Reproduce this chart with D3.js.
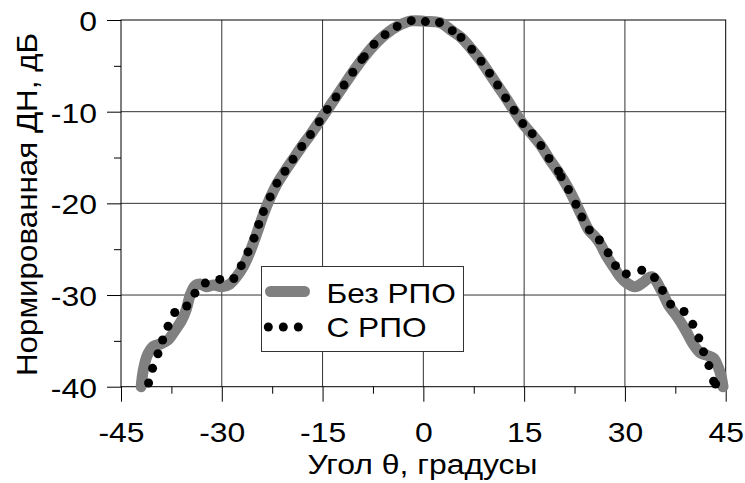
<!DOCTYPE html>
<html>
<head>
<meta charset="utf-8">
<script src="https://cdn.jsdelivr.net/npm/d3@7"></script>
<style>
	html, body { margin: 0; padding: 0; background: #fff; }
	svg text { font-family: 'Liberation Sans', Arial, sans-serif; fill: #000; }
</style>
</head>
<body>
<div id="chart"></div>
<script>
// angle (deg) and normalised pattern (dB)
const angleNoRpo = [-42.0, -41.7, -41.1, -40.2, -39.0, -38.0, -37.0, -36.0, -35.3, -34.7, -34.0, -33.2, -32.3, -31.2, -30.0, -28.8, -27.8, -26.8, -25.8, -24.8, -23.8, -22.8, -21.8, -20.6, -19.4, -18.1, -16.8, -15.5, -14.3, -13.0, -11.8, -10.5, -9.0, -7.4, -5.7, -3.9, -1.8, 0.3, 2.5, 4.3, 5.6, 7.2, 8.6, 9.8, 11.0, 12.3, 13.5, 14.8, 16.2, 17.5, 18.7, 20.2, 21.6, 22.7, 23.6, 24.6, 25.5, 26.3, 27.3, 28.3, 29.3, 30.3, 31.5, 32.6, 34.0, 35.5, 36.5, 37.8, 39.0, 40.2, 41.2, 42.3, 43.2, 43.9, 44.3, 44.6];
const levelNoRpo = [-40.0, -38.3, -36.6, -35.6, -35.3, -34.9, -33.9, -32.8, -31.6, -30.0, -29.0, -28.8, -29.1, -28.9, -29.1, -28.8, -28.0, -26.9, -25.3, -23.3, -21.2, -19.4, -17.9, -16.5, -15.2, -13.8, -12.5, -11.1, -9.8, -8.4, -7.1, -5.7, -4.2, -2.8, -1.6, -0.7, -0.1, -0.15, -0.3, -1.2, -1.9, -3.2, -4.5, -5.8, -7.1, -8.5, -9.9, -11.3, -12.5, -13.7, -15.1, -16.7, -18.4, -20.0, -21.4, -22.9, -23.6, -24.4, -25.8, -26.9, -28.0, -28.7, -29.1, -28.7, -28.0, -29.6, -31.1, -32.4, -33.8, -35.4, -36.3, -36.6, -36.9, -37.9, -38.8, -40.0];

const angleRpo = [-40.9, -40.3, -39.5, -38.8, -38.0, -37.0, -35.2, -34.0, -32.45, -30.3, -28.2, -27.1, -26.1, -25.2, -24.5, -23.8, -22.8, -21.8, -20.6, -19.4, -18.1, -16.8, -15.5, -14.3, -13.0, -11.8, -10.5, -9.15, -8.8, -7.35, -5.7, -3.9, -1.8, 0.3, 2.4, 4.3, 5.6, 7.2, 8.6, 9.85, 11.05, 12.25, 13.5, 14.8, 16.2, 17.5, 18.7, 20.1, 20.5, 21.6, 22.7, 23.6, 24.7, 26.2, 27.5, 28.6, 30.2, 32.5, 34.4, 35.6, 36.8, 38.8, 40.1, 41.0, 41.7, 42.5, 43.2, 43.5];
const levelRpo = [-39.6, -38.0, -36.4, -34.9, -33.4, -31.9, -31.2, -29.8, -28.7, -28.3, -28.2, -26.8, -25.3, -23.8, -22.3, -20.9, -19.3, -17.8, -16.5, -15.2, -13.8, -12.5, -11.1, -9.75, -8.4, -7.1, -5.7, -4.3, -4.0, -2.65, -1.6, -0.7, -0.07, -0.17, -0.27, -1.16, -1.9, -3.2, -4.5, -5.8, -7.1, -8.5, -9.85, -11.3, -12.4, -13.7, -15.1, -16.5, -17.1, -18.5, -20.1, -21.5, -22.9, -24.0, -25.4, -26.8, -27.7, -27.3, -28.1, -29.5, -31.0, -31.8, -33.2, -34.7, -36.2, -37.7, -39.4, -39.7];

const xTicks = [-45, -30, -15, 0, 15, 30, 45];
const xMinor = [-37.5, -22.5, -7.5, 7.5, 22.5, 37.5];
const yTicks = [0, -10, -20, -30, -40];
const yMinor = [-5, -15, -25, -35];
const seriesNames = ['Без РПО', 'С РПО'];

const width = 745, height = 483;
const plotLeft = 121, plotRight = 725.7, plotTop = 20, plotBottom = 386.7;
const stretch = 1.14; // text in the source is drawn a bit wide

const svg = d3.select('#chart')
	.append('svg')
	.attr('width', width)
	.attr('height', height);

const x = d3.scaleLinear().domain([-45, 45]).range([plotLeft, plotRight]);
const y = d3.scaleLinear().domain([-40, 0]).range([plotBottom, plotTop]);

// grid
const grid = svg.append('g').attr('stroke', '#333').attr('stroke-width', 1);
grid.selectAll('.vg')
	.data(xTicks.slice(1, -1))
	.enter()
	.append('line')
	.attr('x1', (d) => x(d)).attr('x2', (d) => x(d))
	.attr('y1', plotTop).attr('y2', plotBottom);
grid.selectAll('.hg')
	.data(yTicks.slice(1, -1))
	.enter()
	.append('line')
	.attr('x1', plotLeft).attr('x2', plotRight)
	.attr('y1', (d) => y(d)).attr('y2', (d) => y(d));

// frame
svg.append('rect')
	.attr('x', plotLeft).attr('y', plotTop)
	.attr('width', plotRight - plotLeft).attr('height', plotBottom - plotTop)
	.attr('fill', 'none')
	.attr('stroke', '#000');

// axes
const xAxis = svg.append('g')
	.attr('transform', `translate(0,${plotBottom})`)
	.call(d3.axisBottom(x).tickValues(xTicks).tickSize(15).tickFormat((d) => String(d)));
xAxis.select('.domain').remove();
xAxis.selectAll('text')
	.attr('font-size', 28)
	.attr('font-family', "'Liberation Sans', Arial, sans-serif")
	.attr('x', 0).attr('y', 0).attr('dy', null)
	.attr('transform', `translate(0,55) scale(${stretch},1)`);

const xMinorAxis = svg.append('g')
	.attr('transform', `translate(0,${plotBottom})`)
	.call(d3.axisBottom(x).tickValues(xMinor).tickSize(7).tickFormat(''));
xMinorAxis.select('.domain').remove();

const yAxis = svg.append('g')
	.attr('transform', `translate(${plotLeft},0)`)
	.call(d3.axisLeft(y).tickValues(yTicks).tickSize(14).tickFormat((d) => String(d)));
yAxis.select('.domain').remove();
yAxis.selectAll('text')
	.attr('font-size', 28)
	.attr('font-family', "'Liberation Sans', Arial, sans-serif")
	.attr('x', 0).attr('dy', null)
	.attr('transform', `translate(-24,10.5) scale(${stretch},1)`);

const yMinorAxis = svg.append('g')
	.attr('transform', `translate(${plotLeft},0)`)
	.call(d3.axisLeft(y).tickValues(yMinor).tickSize(7).tickFormat(''));
yMinorAxis.select('.domain').remove();

// curves
const noRpo = angleNoRpo.map((a, i) => ({ a, v: levelNoRpo[i] }));
const rpo = angleRpo.map((a, i) => ({ a, v: levelRpo[i] }));

const line = d3.line()
	.x((d) => x(d.a))
	.y((d) => y(d.v))
	.curve(d3.curveCatmullRom.alpha(0.5));

svg.append('path')
	.datum(noRpo)
	.attr('d', line)
	.attr('fill', 'none')
	.attr('stroke', '#808080')
	.attr('stroke-width', 11)
	.attr('stroke-linecap', 'round')
	.attr('stroke-linejoin', 'round');

svg.append('g')
	.selectAll('circle')
	.data(rpo)
	.enter()
	.append('circle')
	.attr('cx', (d) => x(d.a))
	.attr('cy', (d) => y(d.v))
	.attr('r', 4.5)
	.attr('fill', '#000');

// legend
const legend = svg.append('g');
legend.append('rect')
	.attr('x', 261.5).attr('y', 266.5)
	.attr('width', 202).attr('height', 85)
	.attr('fill', '#fff')
	.attr('stroke', '#333');
legend.append('line')
	.attr('x1', 270.5).attr('x2', 304.5)
	.attr('y1', 291.5).attr('y2', 291.5)
	.attr('stroke', '#808080')
	.attr('stroke-width', 11)
	.attr('stroke-linecap', 'round');
legend.selectAll('.ld')
	.data([268.3, 283.3, 298.3])
	.enter()
	.append('circle')
	.attr('cx', (d) => d)
	.attr('cy', 327)
	.attr('r', 4.5)
	.attr('fill', '#000');
legend.selectAll('.lt')
	.data(seriesNames)
	.enter()
	.append('text')
	.attr('transform', (d, i) => `translate(326.5,${303.3 + i * 34}) scale(1.13,1)`)
	.attr('font-size', 28)
	.text((d) => d);

// axis titles
svg.append('text')
	.attr('transform', `translate(422.5,473.5) scale(${stretch},1)`)
	.attr('text-anchor', 'middle')
	.attr('font-size', 28)
	.text('Угол θ, градусы');

svg.append('text')
	.attr('transform', 'translate(37,204.5) rotate(-90) scale(1.12,1.07)')
	.attr('text-anchor', 'middle')
	.attr('font-size', 28)
	.text('Нормированная ДН, дБ');
</script>
</body>
</html>
